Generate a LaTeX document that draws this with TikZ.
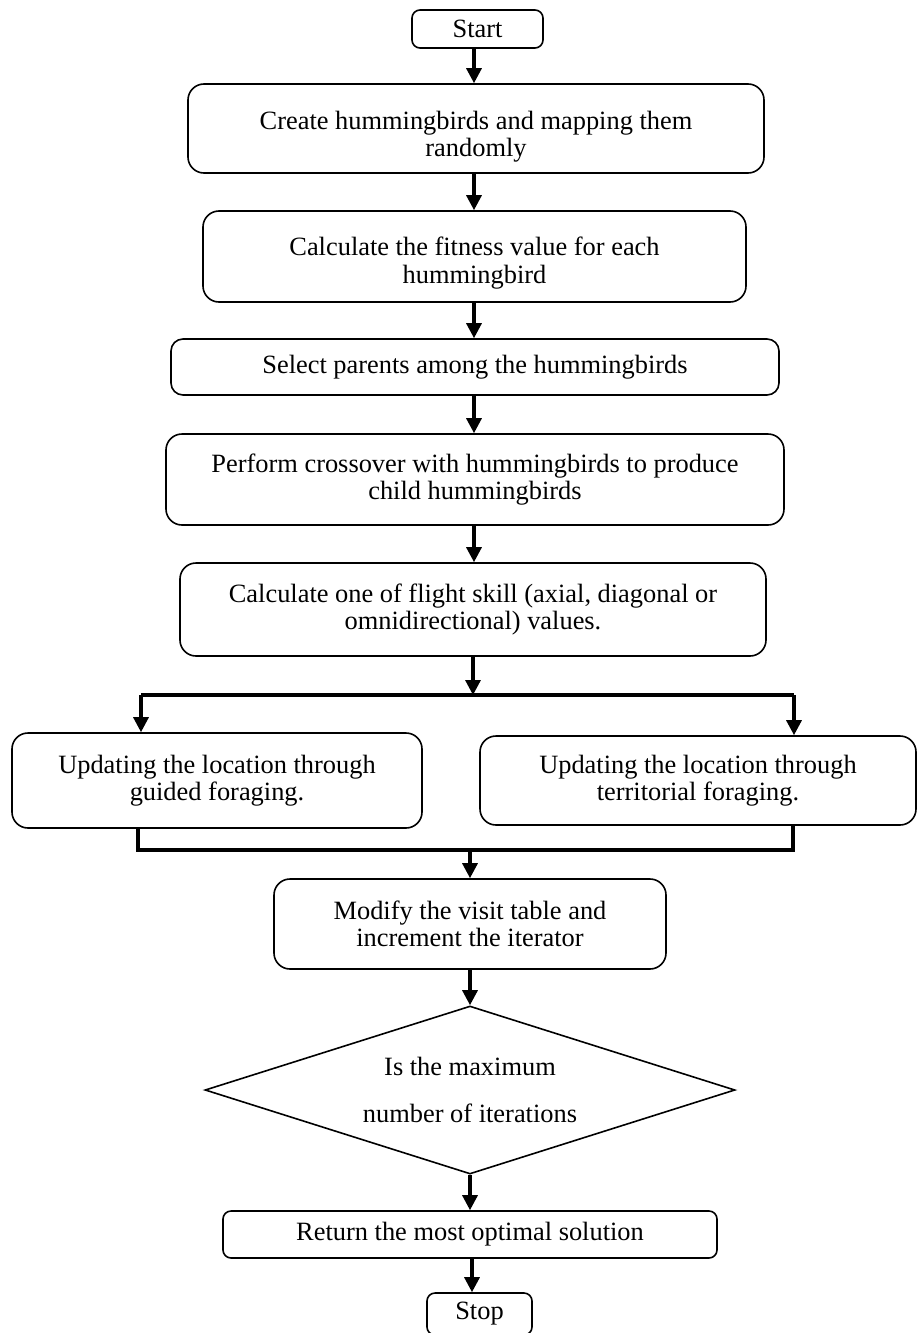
\documentclass[tikz,border=0pt]{standalone}
\usepackage{fontspec}
\setmainfont{Liberation Serif}
\usetikzlibrary{arrows.meta,shapes.geometric}
\newcommand{\flowfont}{\fontsize{13.2}{13.8}\selectfont}
\begin{document}
\begin{tikzpicture}[x=0.5pt,y=-0.5pt,
  box/.style={draw, line width=0.8pt, rounded corners=8pt, inner sep=0pt, align=center, font=\flowfont},
  smallbox/.style={box, rounded corners=4pt},
  decision/.style={draw, line width=0.8pt, diamond, aspect=3.2, inner sep=0pt, align=center, font=\flowfont},
  arr/.style={line width=1.6pt, -{Triangle[length=7.5pt,width=7.5pt]}},
  ln/.style={line width=1.6pt}]
\clip (0,0) rectangle (918,1333);
\fill[white] (0,0) rectangle (918,1333);

\coordinate (ax) at (474,0);
\coordinate (bx) at (470,0);

\node[smallbox, minimum width=65.5pt, minimum height=19pt] (start) at (477.5,29) {Start};
\node[box, minimum width=288pt, minimum height=44.5pt] (b1) at (476,128.5)
  {\raisebox{-4.5pt}[\height][\depth]{\begin{tabular}{@{}c@{}}Create hummingbirds and mapping them\\ randomly\end{tabular}}};
\node[box, minimum width=271.5pt, minimum height=45.5pt] (b2) at (474.5,256.5)
  {\raisebox{-3.75pt}[\height][\depth]{\begin{tabular}{@{}c@{}}Calculate the fitness value for each\\ hummingbird\end{tabular}}};
\node[box, rounded corners=6pt, minimum width=304pt, minimum height=28pt] (b3) at (475,367)
  {Select parents among the hummingbirds};
\node[box, minimum width=309pt, minimum height=45.5pt] (b4) at (475,479.5)
  {Perform crossover with hummingbirds to produce\\ child hummingbirds};
\node[box, minimum width=293pt, minimum height=46.5pt] (b5) at (473,609.5)
  {Calculate one of flight skill (axial, diagonal or\\ omnidirectional) values.};
\node[box, minimum width=205pt, minimum height=47.5pt] (lb) at (217,780.5)
  {Updating the location through\\ guided foraging.};
\node[box, minimum width=218pt, minimum height=44.5pt] (rb) at (698,780.5)
  {Updating the location through\\ territorial foraging.};
\node[box, minimum width=196pt, minimum height=45pt] (mod) at (470,924)
  {Modify the visit table and\\ increment the iterator};
\node[decision, minimum width=265pt, minimum height=84pt] (dia) at (470,1090)
  {Is the maximum\\[9.7pt] number of iterations};
\node[smallbox, minimum width=247pt, minimum height=23.5pt] (ret) at (470,1234.5)
  {Return the most optimal solution};
\node[smallbox, minimum width=52.5pt, minimum height=21pt] (stop) at (479.5,1314) {Stop};

\coordinate (jt) at (473,695);
\coordinate (jl) at (141,695);
\coordinate (jr) at (794,695);
\coordinate (bl) at (138,850);
\coordinate (br) at (793,850);
\coordinate (jb) at (470,850);

\draw[arr] (start.south -| ax) -- (b1.north -| ax);
\draw[arr] (b1.south -| ax) -- (b2.north -| ax);
\draw[arr] (b2.south -| ax) -- (b3.north -| ax);
\draw[arr] (b3.south -| ax) -- (b4.north -| ax);
\draw[arr] (b4.south -| ax) -- (b5.north -| ax);
\draw[arr] (b5.south -| jt) -- (jt);
\draw[ln] (jl) -- (jr);
\draw[arr] (jl) -- (lb.north -| jl);
\draw[arr] (jr) -- (rb.north -| jr);
\draw[ln] (lb.south -| bl) -- (bl) -- (br) -- (rb.south -| br);
\draw[arr] (jb) -- (mod.north -| jb);
\draw[arr] (mod.south -| bx) -- (dia.north -| bx);
\draw[arr] (dia.south -| bx) -- (ret.north -| bx);
\draw[arr] (ret.south -| 472,0) -- (stop.north -| 472,0);
\end{tikzpicture}
\end{document}
